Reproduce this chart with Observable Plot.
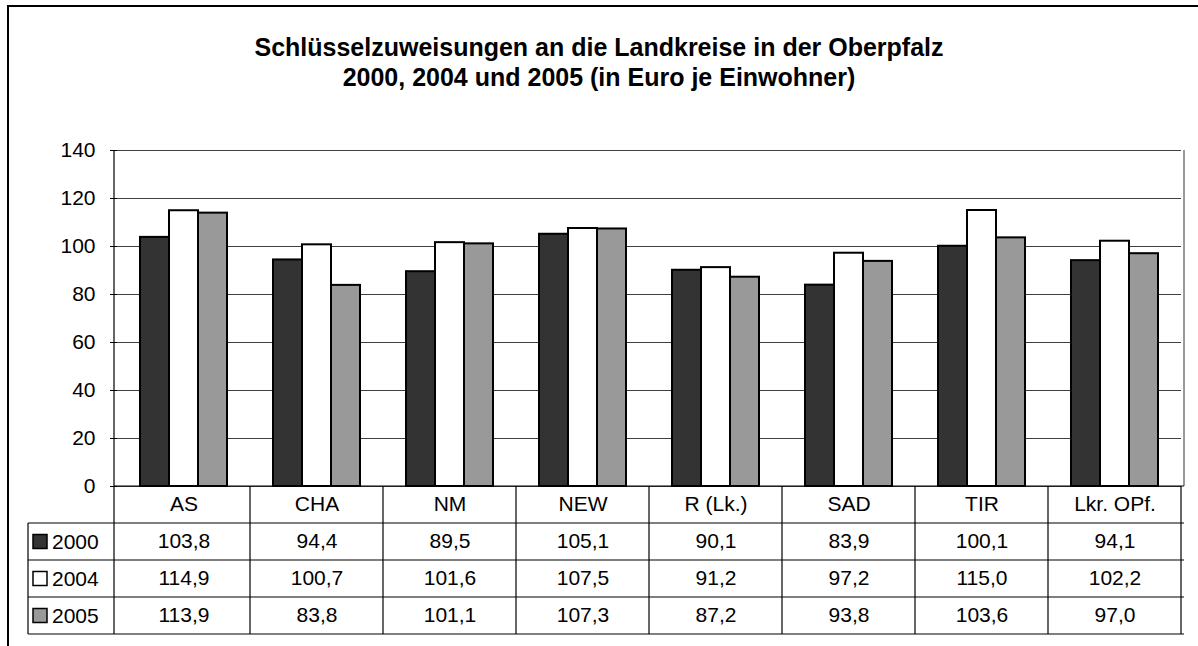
<!DOCTYPE html>
<html>
<head>
<meta charset="utf-8">
<script src="https://cdn.jsdelivr.net/npm/d3@7"></script>
<script src="https://cdn.jsdelivr.net/npm/@observablehq/plot@0.6"></script>
<style>
  html, body { margin: 0; padding: 0; background: #fff; overflow: hidden; width: 1198px; height: 646px; }
  #wrap { position: relative; width: 1198px; height: 646px; overflow: hidden; font-family: "Liberation Sans", Arial, sans-serif; }
  #frame { position: absolute; left: 7px; top: 5px; width: 1400px; height: 1000px; border: 2px solid #000; box-sizing: border-box; }
  #title { position: absolute; left: 0; top: 32px; width: 1198px; text-align: center; font-weight: bold; font-size: 25px; line-height: 30px; color: #000; z-index: 2; }
  #chart { position: absolute; left: 0; top: 0; z-index: 1; }
</style>
</head>
<body>
<div id="wrap">
  <div id="frame"></div>
  <div id="title">Schlüsselzuweisungen an die Landkreise in der Oberpfalz<br>2000, 2004 und 2005 (in Euro je Einwohner)</div>
  <div id="chart"></div>
</div>
<script>
const categories = ["AS", "CHA", "NM", "NEW", "R (Lk.)", "SAD", "TIR", "Lkr. OPf."];
const years = ["2000", "2004", "2005"];
const values2000 = [103.8, 94.4, 89.5, 105.1, 90.1, 83.9, 100.1, 94.1];
const values2004 = [114.9, 100.7, 101.6, 107.5, 91.2, 97.2, 115.0, 102.2];
const values2005 = [113.9, 83.8, 101.1, 107.3, 87.2, 93.8, 103.6, 97.0];
const yTicks = [0, 20, 40, 60, 80, 100, 120, 140];
const seriesColors = ["#333333", "#ffffff", "#999999"];

const seriesValues = [values2000, values2004, values2005];
const data = [];
years.forEach((yr, i) => categories.forEach((c, j) => data.push({cat: c, year: yr, value: seriesValues[i][j]})));

const fmt = v => v.toFixed(1).replace(".", ",");
const FONT = '"Liberation Sans", Arial, sans-serif';
const rowH = 37;
const textShift = 6;

const textMarks = years.map((yr, i) =>
  Plot.text(data.filter(d => d.year === yr), {
    fx: "cat", text: d => fmt(d.value), frameAnchor: "bottom",
    dy: rowH * (i + 1) + rowH / 2 + textShift, fill: "#000", fontSize: 21
  })
);

const plot = Plot.plot({
  width: 1198, height: 646,
  marginLeft: 114, marginRight: 14, marginTop: 150, marginBottom: 160,
  style: {fontFamily: FONT, fontSize: "21px", background: "transparent", overflow: "visible", color: "#000"},
  fx: {domain: categories, padding: 0, axis: null},
  x: {domain: years, paddingInner: 0, paddingOuter: 0.75, axis: null},
  y: {domain: [0, 140], axis: null},
  color: {domain: years, range: seriesColors},
  marks: [
    Plot.gridY(yTicks, {stroke: "#000", strokeOpacity: 0.75, strokeWidth: 1}),
    Plot.barY(data, {fx: "cat", x: "year", y: "value", fill: "year", stroke: "#000", strokeWidth: 2}),
    Plot.axisY(yTicks, {tickSize: 7, tickPadding: 15, fontSize: 21, label: null, tickFormat: d => String(d), stroke: "#000", strokeOpacity: 1}),
    Plot.text(categories, {fx: d => d, text: d => d, frameAnchor: "bottom", dy: rowH / 2 + textShift, fill: "#000", fontSize: 21}),
    ...textMarks
  ]
});

document.getElementById("chart").appendChild(plot);

// table grid, plot borders and legend keys, placed with the plot's own scales
const fx = plot.scale("fx");
const y = plot.scale("y");
const svg = d3.select(plot);
const left = fx.range[0], right = fx.range[1];
const y0 = y.apply(0), yTop = y.apply(140);
const yBottom = y0 + rowH * (years.length + 1);
const legendLeft = 28;
const g = svg.append("g").attr("fill", "none");

// plot area right border (gray)
g.append("line").attr("x1", right).attr("x2", right).attr("y1", yTop).attr("y2", y0)
  .attr("stroke", "#999").attr("stroke-width", 2);
// left axis line
g.append("line").attr("x1", left).attr("x2", left).attr("y1", yTop).attr("y2", yBottom)
  .attr("stroke", "#000").attr("stroke-width", 1.2);
// baseline / table top
g.append("line").attr("x1", left).attr("x2", right).attr("y1", y0).attr("y2", y0)
  .attr("stroke", "#000").attr("stroke-width", 1.2);
// horizontal row lines
for (let k = 1; k <= years.length + 1; k++) {
  const yy = y0 + rowH * k;
  g.append("line").attr("x1", legendLeft).attr("x2", right).attr("y1", yy).attr("y2", yy)
    .attr("stroke", "#000").attr("stroke-width", 1.2);
}
// vertical column lines
categories.forEach(c => {
  const xx = fx.apply(c) + fx.bandwidth;
  g.append("line").attr("x1", xx).attr("x2", xx).attr("y1", y0).attr("y2", yBottom)
    .attr("stroke", "#000").attr("stroke-width", 1.2);
});
g.append("line").attr("x1", legendLeft).attr("x2", legendLeft).attr("y1", y0 + rowH).attr("y2", yBottom)
  .attr("stroke", "#000").attr("stroke-width", 1.2);

// legend keys in the table's first column
years.forEach((yr, i) => {
  const cy = y0 + rowH * (i + 1) + rowH / 2;
  svg.append("rect").attr("x", 33).attr("y", cy - 7).attr("width", 14).attr("height", 14)
    .attr("fill", seriesColors[i]).attr("stroke", "#000").attr("stroke-width", 1.5);
  svg.append("text").attr("x", 52).attr("y", cy).attr("dy", "0.36em")
    .attr("text-anchor", "start")
    .attr("font-family", FONT).attr("font-size", 21).attr("fill", "#000").text(yr);
});
</script>
</body>
</html>
